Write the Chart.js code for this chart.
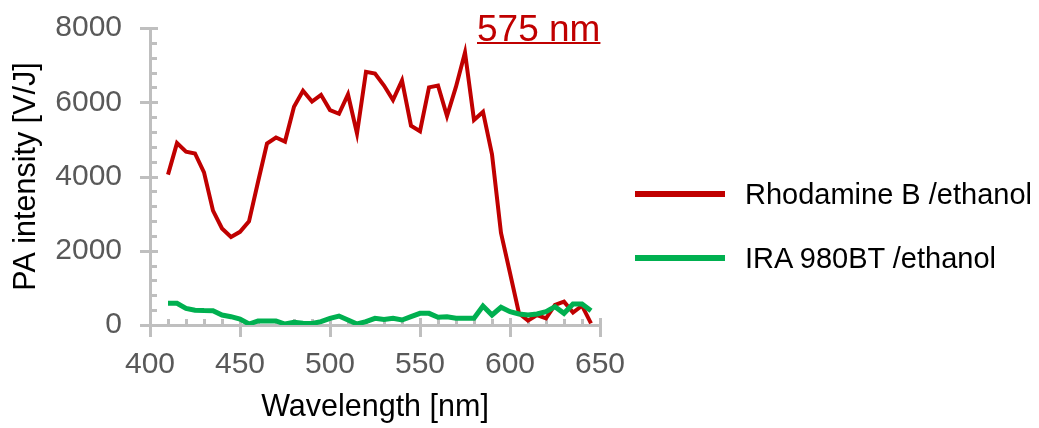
<!DOCTYPE html>
<html lang="en">
<head>
    <meta charset="UTF-8">
    <title>PA intensity spectra</title>
    <script src="https://cdn.jsdelivr.net/npm/chart.js"></script>
    <style>
        body {
            margin: 0;
            background: #ffffff;
            overflow: hidden;
            font-family: "Liberation Sans", Arial, sans-serif;
        }
        .wrap {
            position: relative;
            width: 1039px;
            height: 428px;
        }
        .peak-label {
            position: absolute;
            left: 477px;
            top: 10px;
            font-size: 37px;
            line-height: 37px;
            color: #c00000;
            text-decoration: underline;
            text-decoration-thickness: 2px;
            white-space: nowrap;
        }
        .legend-line {
            position: absolute;
            left: 635px;
            width: 90px;
            height: 6px;
        }
        .legend-text {
            position: absolute;
            left: 745px;
            font-size: 29px;
            line-height: 29px;
            color: #000000;
            white-space: nowrap;
        }
    </style>
</head>
<body>
    <div class="wrap">
        <canvas id="paChart" width="1039" height="428"></canvas>
        <div class="peak-label">575 nm</div>
        <div class="legend-line" style="top:191px; background:#c00000;"></div>
        <div class="legend-text" style="top:180px;">Rhodamine B /ethanol</div>
        <div class="legend-line" style="top:255px; background:#00b050;"></div>
        <div class="legend-text" style="top:244px;">IRA 980BT /ethanol</div>
    </div>

    <script>
        // wavelength of each measurement (nm)
        const wavelengths = [410, 415, 420, 425, 430, 435, 440, 445, 450, 455,
                             460, 465, 470, 475, 480, 485, 490, 495, 500, 505,
                             510, 515, 520, 525, 530, 535, 540, 545, 550, 555,
                             560, 565, 570, 575, 580, 585, 590, 595, 600, 605,
                             610, 615, 620, 625, 630, 635, 640, 645];

        // PA intensity [V/J]
        const rhodamineB = [4050, 4900, 4670, 4620, 4110, 3080, 2600, 2370, 2510, 2790,
                            3850, 4890, 5050, 4940, 5880, 6310, 6020, 6200, 5790, 5690,
                            6210, 5160, 6820, 6770, 6450, 6060, 6590, 5370, 5220, 6400,
                            6450, 5630, 6420, 7340, 5520, 5740, 4600, 2480, 1400, 314,
                            117, 269, 180, 540, 630, 335, 520, 45];

        const ira980bt = [584, 584, 449, 400, 390, 386, 269, 224, 162, 27,
                          108, 108, 108, 27, 72, 45, 40, 90, 180, 242,
                          135, 27, 90, 180, 150, 180, 135, 224, 314, 314,
                          207, 224, 180, 180, 180, 512, 269, 476, 359, 296,
                          269, 296, 359, 494, 314, 566, 566, 386];

        // axis tick settings
        const xMin = 400, xMax = 650, xMajor = 50, xMinor = 10;
        const yMin = 0, yMax = 8000, yMajor = 2000, yMinor = 400;

        const axisColor = '#bfbfbf';
        const tickFont = { family: "'Liberation Sans', Arial, sans-serif", size: 30 };
        const titleFont = { family: "'Liberation Sans', Arial, sans-serif", size: 30.5 };

        // draws the major/minor tick marks along both axes
        const tickMarks = {
            id: 'tickMarks',
            beforeDatasetsDraw(chart) {
                const ctx = chart.ctx;
                const x = chart.scales.x, y = chart.scales.y;
                const bottom = chart.chartArea.bottom;
                const left = chart.chartArea.left;
                ctx.save();
                ctx.strokeStyle = axisColor;
                ctx.lineWidth = 3;
                ctx.beginPath();
                for (let v = xMin; v <= xMax; v += xMinor) {
                    const px = Math.round(x.getPixelForValue(v)) + 0.5;
                    if (v % xMajor === 0) {
                        ctx.moveTo(px, bottom - 7);
                        ctx.lineTo(px, bottom + 12);
                    } else {
                        ctx.moveTo(px, bottom - 6);
                        ctx.lineTo(px, bottom);
                    }
                }
                for (let v = yMin; v <= yMax; v += yMinor) {
                    const py = Math.round(y.getPixelForValue(v)) + 0.5;
                    if (v % yMajor === 0) {
                        ctx.moveTo(left - 10, py);
                        ctx.lineTo(left + 8, py);
                    } else {
                        ctx.moveTo(left, py);
                        ctx.lineTo(left + 7, py);
                    }
                }
                ctx.stroke();
                ctx.restore();
            }
        };

        const toPoints = vals => wavelengths.map((w, i) => ({ x: w, y: vals[i] }));

        const ctx = document.getElementById('paChart').getContext('2d');
        const paChart = new Chart(ctx, {
            type: 'line',
            data: {
                datasets: [{
                    label: 'Rhodamine B /ethanol',
                    data: toPoints(rhodamineB),
                    borderColor: '#c00000',
                    borderWidth: 4,
                    pointRadius: 0,
                    tension: 0,
                    order: 1
                }, {
                    label: 'IRA 980BT /ethanol',
                    data: toPoints(ira980bt),
                    borderColor: '#00b050',
                    borderWidth: 5,
                    pointRadius: 0,
                    tension: 0,
                    order: 0
                }]
            },
            options: {
                responsive: false,
                devicePixelRatio: 1,
                animation: false,
                layout: {
                    padding: { left: 0, top: 28, right: 439, bottom: 0 }
                },
                plugins: {
                    legend: { display: false },
                    tooltip: { enabled: false }
                },
                scales: {
                    x: {
                        type: 'linear',
                        min: xMin,
                        max: xMax,
                        afterFit: scale => { scale.height = 103; },
                        grid: { display: true, drawOnChartArea: false, drawTicks: false },
                        border: { display: true, color: axisColor, width: 3 },
                        ticks: {
                            stepSize: xMajor,
                            color: '#595959',
                            font: tickFont,
                            padding: 22,
                            maxRotation: 0,
                            callback: v => String(v)
                        },
                        title: {
                            display: true,
                            text: 'Wavelength [nm]',
                            color: '#000000',
                            font: titleFont,
                            padding: { top: 0, bottom: 2 }
                        }
                    },
                    y: {
                        min: yMin,
                        max: yMax,
                        afterFit: scale => {
                            scale.width = 150;
                            // the top label may hang into the layout padding
                            scale.paddingTop = 0;
                            scale.paddingBottom = 0;
                        },
                        grid: { display: true, drawOnChartArea: false, drawTicks: false },
                        border: { display: true, color: axisColor, width: 3 },
                        ticks: {
                            stepSize: yMajor,
                            color: '#595959',
                            font: tickFont,
                            padding: 28,
                            callback: v => String(v)
                        },
                        title: {
                            display: true,
                            text: 'PA intensity [V/J]',
                            color: '#000000',
                            font: titleFont,
                            padding: { top: 8, bottom: 0 }
                        }
                    }
                }
            },
            plugins: [tickMarks]
        });
    </script>
</body>
</html>
